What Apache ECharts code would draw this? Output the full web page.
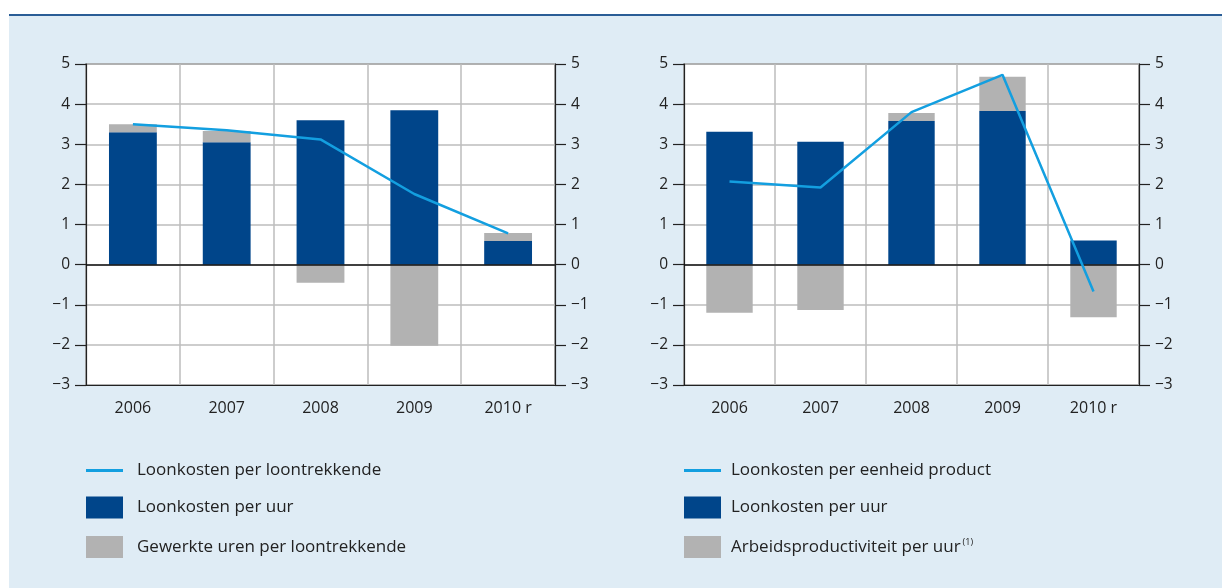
<!DOCTYPE html>
<html>
<head>
<meta charset="utf-8">
<script src="https://cdn.jsdelivr.net/npm/echarts@6/dist/echarts.min.js"></script>
<style>
  html, body { margin: 0; padding: 0; background: #fff; }
  #chart { width: 1222px; height: 588px; }
</style>
</head>
<body>
<div id="chart"></div>
<script>
// categorieën
var years = ['2006', '2007', '2008', '2009', '2010 r'];

// linker grafiek
var loonPerLoontrekkende = [3.50, 3.35, 3.12, 1.76, 0.78];
var loonPerUurLinks = [3.30, 3.05, 3.60, 3.85, 0.59];
var gewerkteUren = [0.20, 0.28, -0.45, -2.02, 0.20];

// rechter grafiek
var loonPerEenheid = [2.07, 1.92, 3.80, 4.73, -0.67];
var loonPerUurRechts = [3.31, 3.06, 3.58, 3.83, 0.60];
var arbeidsproductiviteit = [-1.20, -1.13, 0.20, 0.85, -1.31];

var yMin = -3, yMax = 5, yStep = 1;

var darkBlue = '#00458a';
var grey = '#b2b2b2';
var lightBlue = '#139fe0';
var txt = '#222';
var font = 'Open Sans';

var myChart = echarts.init(document.getElementById('chart'));

function minus(v) {
    return String(v).replace('-', '\u2212');
}

function yAxis(gridIndex, pos) {
    return {
        type: 'value',
        gridIndex: gridIndex,
        position: pos,
        min: yMin,
        max: yMax,
        interval: yStep,
        axisLine: { show: true, lineStyle: { color: '#222', width: 1.2 } },
        axisTick: { show: true, length: 11, lineStyle: { color: '#222', width: 1.2 } },
        axisLabel: {
            margin: 16,
            color: txt,
            fontFamily: font,
            fontSize: 15.5,
            formatter: minus
        },
        splitLine: { show: pos === 'left', lineStyle: { color: '#bdbdbd', width: 1.5 } }
    };
}

function xAxis(gridIndex) {
    return {
        type: 'category',
        gridIndex: gridIndex,
        data: years,
        boundaryGap: true,
        axisLine: { show: true, onZero: false, lineStyle: { color: '#222', width: 1.2 } },
        axisTick: { show: false },
        axisLabel: { margin: 15, color: txt, fontFamily: font, fontSize: 16 },
        splitLine: { show: true, interval: 0, lineStyle: { color: '#bdbdbd', width: 1.5 } }
    };
}

var zeroLine = {
    silent: true,
    symbol: 'none',
    label: { show: false },
    lineStyle: { color: '#111', type: 'solid', width: 1.5 },
    data: [{ yAxis: 0 }]
};

function legend(left, names, pad) {
    return {
        orient: 'vertical',
        left: left,
        top: 462,
        padding: 0,
        itemWidth: 37,
        itemHeight: 22,
        itemGap: 17.5,
        icon: 'rect',
        selectedMode: false,
        data: [
            { name: names[0], icon: 'path://M0,0 L37,0 L37,3 L0,3 Z' },
            { name: names[1] },
            { name: names[2] }
        ],
        formatter: function (name) {
            if (name === 'Arbeidsproductiviteit per uur') return name + '{sup|(1)}';
            return name;
        },
        textStyle: {
            color: txt,
            fontFamily: font,
            fontSize: 17,
            padding: [0, 0, 0, pad],
            rich: {
                sup: { fontSize: 9, fontFamily: font, color: txt, padding: [0, 0, 9, 2] }
            }
        }
    };
}

var option = {
    backgroundColor: '#fff',
    animation: false,
    graphic: [
        { type: 'rect', left: 9, top: 15, shape: { width: 1213, height: 573 }, style: { fill: '#dfecf5' }, z: -10 },
        { type: 'rect', left: 9, top: 14, shape: { width: 1213, height: 2 }, style: { fill: '#2a5d96' }, z: -9 }
    ],
    grid: [
        { left: 86, right: 667, top: 64, bottom: 203, show: true, backgroundColor: '#fff', borderColor: '#222', borderWidth: 1.2 },
        { left: 684, right: 83, top: 64, bottom: 203, show: true, backgroundColor: '#fff', borderColor: '#222', borderWidth: 1.2 }
    ],
    xAxis: [xAxis(0), xAxis(1)],
    yAxis: [yAxis(0, 'left'), yAxis(0, 'right'), yAxis(1, 'left'), yAxis(1, 'right')],
    legend: [
        legend(86, ['Loonkosten per loontrekkende', 'Loonkosten per uur', 'Gewerkte uren per loontrekkende'], 9),
        legend(684, ['Loonkosten per eenheid product', 'Loonkosten per uur', 'Arbeidsproductiviteit per uur'], 5)
    ],
    series: [
        {
            name: 'Loonkosten per uur', type: 'bar', xAxisIndex: 0, yAxisIndex: 0,
            stack: 'links', barWidth: '51%', itemStyle: { color: darkBlue },
            data: loonPerUurLinks, markLine: zeroLine
        },
        {
            name: 'Gewerkte uren per loontrekkende', type: 'bar', xAxisIndex: 0, yAxisIndex: 0,
            stack: 'links', barWidth: '51%', itemStyle: { color: grey },
            data: gewerkteUren
        },
        {
            name: 'Loonkosten per loontrekkende', type: 'line', xAxisIndex: 0, yAxisIndex: 0,
            symbol: 'none', itemStyle: { color: lightBlue },
            lineStyle: { color: lightBlue, width: 2.5 }, data: loonPerLoontrekkende, z: 5
        },
        {
            name: 'Loonkosten per uur', type: 'bar', xAxisIndex: 1, yAxisIndex: 2,
            stack: 'rechts', barWidth: '51%', itemStyle: { color: darkBlue },
            data: loonPerUurRechts, markLine: zeroLine
        },
        {
            name: 'Arbeidsproductiviteit per uur', type: 'bar', xAxisIndex: 1, yAxisIndex: 2,
            stack: 'rechts', barWidth: '51%', itemStyle: { color: grey },
            data: arbeidsproductiviteit
        },
        {
            name: 'Loonkosten per eenheid product', type: 'line', xAxisIndex: 1, yAxisIndex: 2,
            symbol: 'none', itemStyle: { color: lightBlue },
            lineStyle: { color: lightBlue, width: 2.5 }, data: loonPerEenheid, z: 5
        }
    ]
};

myChart.setOption(option);
</script>
</body>
</html>
